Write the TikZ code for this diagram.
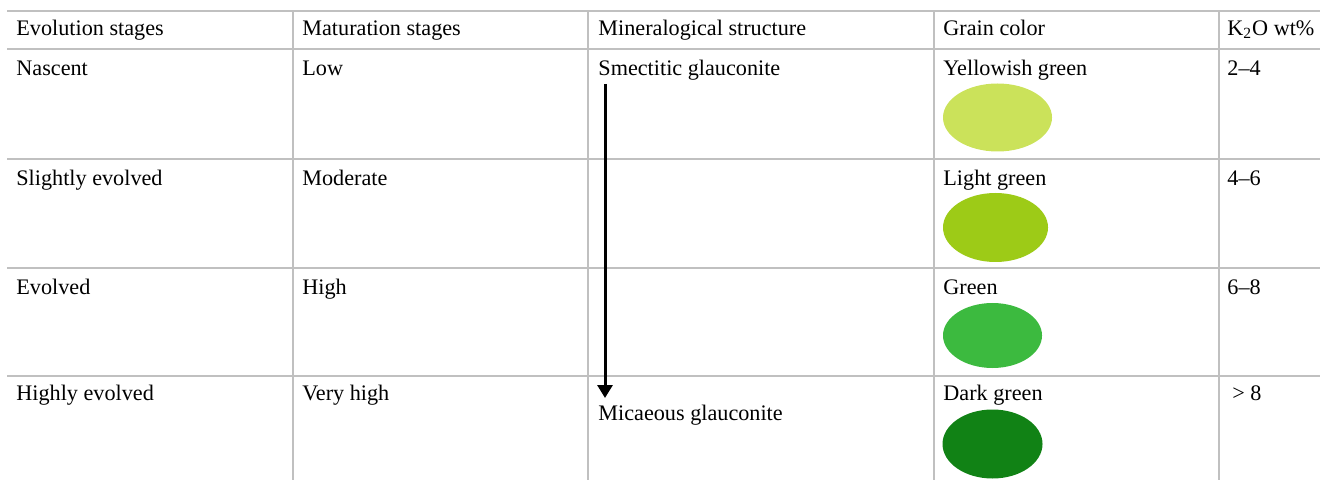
\documentclass[tikz,border=0pt]{standalone}
\usepackage{fontspec}
\setmainfont{Liberation Serif}
\usetikzlibrary{arrows.meta,shapes.geometric}
\definecolor{gridline}{HTML}{C0C0C0}
\definecolor{cYellowish}{HTML}{CBE25A}
\definecolor{cLight}{HTML}{9DCB17}
\definecolor{cGreen}{HTML}{3CBA3F}
\definecolor{cDark}{HTML}{118215}
\begin{document}
\begin{tikzpicture}[x=0.5pt,y=-0.5pt,
  txt/.style={anchor=base west, inner sep=0pt, font=\fontsize{11.1}{13}\selectfont},
  rule/.style={draw=gridline, line width=1pt},
  grain/.style={ellipse, inner sep=0pt, draw=none}]
\useasboundingbox (0,0) rectangle (1320,480);
% grid
\foreach \yy in {11,49,159,268,376} \draw[rule] (7,\yy) -- (1320,\yy);
\foreach \xx in {293,588,934,1219} \draw[rule] (\xx,11) -- (\xx,480);
% header
\node[txt] (h1) at (16,35.5) {Evolution stages};
\node[txt] (h2) at (302,35.5) {Maturation stages};
\node[txt] (h3) at (598,35.5) {Mineralogical structure};
\node[txt] (h4) at (943,35.5) {Grain color};
\node[txt] (h5) at (1227,35.5) {K\textsubscript{2}O wt\%};
% row 1
\node[txt] (e1) at (16,75.5) {Nascent};
\node[txt] (m1) at (302,75.5) {Low};
\node[txt] (s1) at (598,75.5) {Smectitic glauconite};
\node[txt] (g1) at (943,75.5) {Yellowish green};
\node[txt] (k1) at (1227,75.5) {2–4};
\node[grain, fill=cYellowish, minimum width=54.5pt, minimum height=34pt] (o1) at (997.5,117.5) {};
% row 2
\node[txt] (e2) at (16,185.5) {Slightly evolved};
\node[txt] (m2) at (302,185.5) {Moderate};
\node[txt] (g2) at (943,185.5) {Light green};
\node[txt] (k2) at (1227,185.5) {4–6};
\node[grain, fill=cLight, minimum width=52.5pt, minimum height=34.5pt] (o2) at (995.5,227.5) {};
% row 3
\node[txt] (e3) at (16,294.5) {Evolved};
\node[txt] (m3) at (302,294.5) {High};
\node[txt] (g3) at (943,294.5) {Green};
\node[txt] (k3) at (1227,294.5) {6–8};
\node[grain, fill=cGreen, minimum width=49.5pt, minimum height=32.5pt] (o3) at (992.5,335.5) {};
% row 4
\node[txt] (e4) at (16,400.5) {Highly evolved};
\node[txt] (m4) at (302,400.5) {Very high};
\node[txt] (s4) at (598,420) {Micaeous glauconite};
\node[txt] (g4) at (943,400.5) {Dark green};
\node[txt] (k4) at (1232,400.5) {> 8};
\node[grain, fill=cDark, minimum width=50pt, minimum height=34.5pt] (o4) at (992.5,444) {};
% arrow
\coordinate (arrS) at (605,84);
\coordinate (arrE) at (605,398);
\draw[line width=1.5pt, -{Triangle[length=6.5pt,width=7.5pt]}] (arrS) -- (arrE);
\end{tikzpicture}
\end{document}
